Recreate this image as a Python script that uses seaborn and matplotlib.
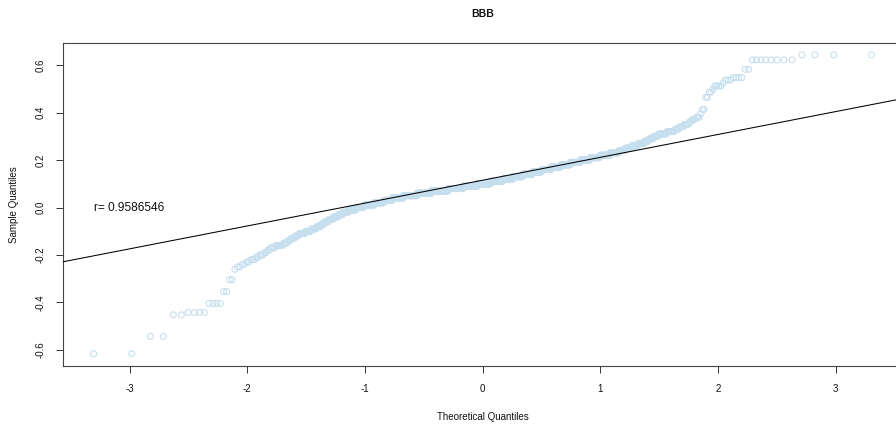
import numpy as np
import matplotlib
matplotlib.use("Agg")
import matplotlib.pyplot as plt
import seaborn as sns
from statistics import NormalDist

# Observed values (sorted) and how many observations sit at each value
sample_values = [
    -0.616, -0.543, -0.452, -0.442, -0.404, -0.354, -0.304,
    -0.26, -0.25, -0.24, -0.23, -0.22, -0.21, -0.20, -0.19, -0.18, -0.17,
    -0.16, -0.15, -0.14, -0.13, -0.12, -0.11, -0.10, -0.09, -0.08, -0.07,
    -0.06, -0.05, -0.04, -0.03, -0.02, -0.01, 0.00, 0.01, 0.02, 0.03,
    0.04, 0.05, 0.06, 0.07, 0.08, 0.09, 0.10, 0.11, 0.12, 0.13,
    0.14, 0.15, 0.16, 0.17, 0.18, 0.19, 0.20, 0.21, 0.22, 0.23,
    0.24, 0.25, 0.26, 0.27, 0.28, 0.29, 0.30, 0.31, 0.32, 0.33,
    0.34, 0.35, 0.36, 0.37,
    0.38, 0.395, 0.413, 0.464, 0.486, 0.498, 0.512, 0.525, 0.537, 0.547,
    0.582, 0.622, 0.643,
]
sample_counts = [
    2, 2, 2, 4, 4, 2, 2,
    1, 2, 2, 2, 3, 2, 3, 2, 2, 4,
    6, 4, 3, 4, 4, 7, 7, 7, 6, 5,
    6, 7, 8, 8, 10, 15, 16, 23, 23, 22,
    30, 41, 45, 56, 51, 51, 47, 43, 35, 34,
    31, 30, 29, 28, 27, 26, 24, 22, 21, 17,
    11, 11, 10, 9, 6, 6, 6, 9, 8, 4,
    4, 4, 2, 3,
    3, 1, 2, 2, 2, 1, 4, 1, 3, 4,
    2, 8, 4,
]
series_name = "BBB"
r_value = "0.9586546"
x_ticks = [-3, -2, -1, 0, 1, 2, 3]
y_ticks = [-0.6, -0.4, -0.2, 0.0, 0.2, 0.4, 0.6]

# Sample quantiles and the matching normal quantiles (ppoints, a = 0.5)
sample = np.sort(np.repeat(sample_values, sample_counts))
n = len(sample)
nd = NormalDist()
theo = np.array([nd.inv_cdf((i - 0.5) / n) for i in range(1, n + 1)])

# Reference line through the first and third quartiles
q_y = np.quantile(sample, [0.25, 0.75])
q_x = np.array([nd.inv_cdf(0.25), nd.inv_cdf(0.75)])
slope = (q_y[1] - q_y[0]) / (q_x[1] - q_x[0])
intercept = q_y[0] - slope * q_x[0]

sns.set_theme(style="ticks")
plt.rcParams["font.family"] = ["Liberation Sans", "DejaVu Sans"]
plt.rcParams["axes.unicode_minus"] = False

W, H = 896, 426
fig = plt.figure(figsize=(W / 100, H / 100), dpi=100)
ax = fig.add_axes([62.7 / W, (H - 365.7) / H, 840 / W, 322.8 / H])

df = {"theo": theo, "sample": sample}
sns.scatterplot(data=df, x="theo", y="sample", ax=ax, marker="o", s=18,
                facecolor="none", edgecolor="#c6dfee", linewidth=0.8,
                legend=False, zorder=2)
ax.axline((0, intercept), slope=slope, color="black", lw=0.75, zorder=3)

# Axis ranges padded by 4% as in base R graphics
xr = theo.max() - theo.min()
yr = sample.max() - sample.min()
ax.set_xlim(theo.min() - 0.04 * xr, theo.max() + 0.04 * xr)
ax.set_ylim(sample.min() - 0.04 * yr, sample.max() + 0.04 * yr)

ax.set_xticks(x_ticks)
ax.set_xticklabels([str(t) for t in x_ticks])
ax.set_yticks(y_ticks)
ax.set_yticklabels([f"{t:.1f}" for t in y_ticks], rotation=90, va="center")
ax.tick_params(axis="both", labelsize=7, length=5.3, width=0.7,
               color="#333333", labelcolor="#111111")
ax.tick_params(axis="x", pad=8)
ax.tick_params(axis="y", pad=7)

for sp in ax.spines.values():
    sp.set_visible(True)
    sp.set_color("#444444")
    sp.set_linewidth(0.8)

ax.set_xlabel("Theoretical Quantiles", fontsize=7, color="#111111")
ax.set_ylabel("Sample Quantiles", fontsize=7, color="#111111")
ax.xaxis.set_label_coords(0.5, -0.159)
ax.xaxis.label.set_va("center")
ax.yaxis.set_label_coords(-0.0585, 0.5)
ax.yaxis.label.set_va("center")

ax.text(-3, 0, f"r= {r_value}", ha="center", va="center", fontsize=8.6,
        color="#111111")

fig.text(482.85 / W, 1 - 14 / H, series_name, ha="center", va="center",
         fontsize=7.5, fontweight="bold", color="#111111")

fig.savefig("out.png", dpi=100)
